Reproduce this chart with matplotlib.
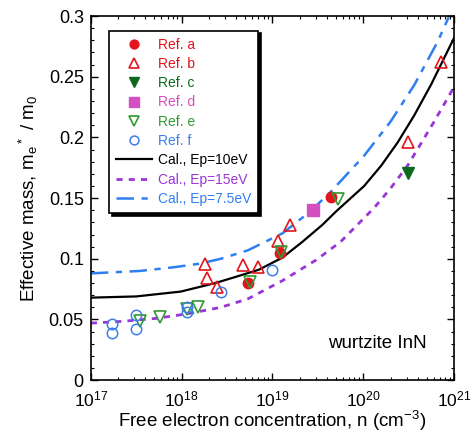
import numpy as np
import matplotlib
matplotlib.use("Agg")
import matplotlib.pyplot as plt
from matplotlib.ticker import MultipleLocator, LogLocator, FixedFormatter, FixedLocator

plt.rcParams['font.family'] = ['Liberation Sans', 'DejaVu Sans']
plt.rcParams['mathtext.default'] = 'regular'

# measured effective masses (n in cm^-3)
ref_a_n = [5.4e18, 1.2e19, 4.4e19]
ref_a_m = [0.080, 0.105, 0.151]

ref_b_n = [1.8e18, 1.9e18, 2.45e18, 4.8e18, 7.0e18, 1.15e19, 1.55e19, 3.1e20, 7.2e20]
ref_b_m = [0.096, 0.084, 0.077, 0.095, 0.093, 0.115, 0.128, 0.196, 0.262]

ref_c_n = [3.1e20]
ref_c_m = [0.171]

ref_d_n = [2.8e19]
ref_d_m = [0.140]

ref_e_n = [3.5e17, 5.8e17, 1.15e18, 1.5e18, 5.7e18, 1.23e19, 5.3e19]
ref_e_m = [0.049, 0.052, 0.059, 0.060, 0.081, 0.106, 0.149]

ref_f_n = [1.7e17, 1.7e17, 3.15e17, 3.15e17, 1.15e18, 1.15e18, 2.7e18, 9.8e18]
ref_f_m = [0.046, 0.039, 0.054, 0.042, 0.060, 0.056, 0.073, 0.091]

# calculated curves, log10(n) vs m*/m0
cal10_logn = [17.00, 17.50, 17.99, 18.37, 18.59, 18.85, 19.11, 19.33, 19.55, 19.70,
              20.01, 20.20, 20.38, 20.56, 20.75, 21.00]
cal10_m = [0.068, 0.069, 0.073, 0.080, 0.085, 0.091, 0.101, 0.114, 0.128, 0.139,
           0.160, 0.177, 0.196, 0.218, 0.244, 0.282]

cal15_logn = [17.00, 17.35, 17.73, 18.09, 18.43, 18.73, 19.11, 19.48, 19.75, 20.12,
              20.30, 20.49, 20.78, 20.98]
cal15_m = [0.047, 0.0485, 0.051, 0.055, 0.060, 0.067, 0.082, 0.099, 0.114, 0.142,
           0.158, 0.177, 0.213, 0.239]

cal75_logn = [17.00, 17.54, 17.91, 18.20, 18.43, 18.73, 19.11, 19.40, 19.64, 20.01,
              20.30, 20.56, 20.82, 20.94]
cal75_m = [0.088, 0.090, 0.093, 0.096, 0.100, 0.107, 0.121, 0.138, 0.155, 0.185,
           0.213, 0.243, 0.279, 0.299]

red = '#e3141b'
dkgreen = '#0b6a1d'
magenta = '#d44fbf'
green = '#2f9a2f'
blue = '#3d7fe6'
purple = '#9a35d8'
lblue = '#2f7ff2'

fig = plt.figure(figsize=(4.73, 4.34), dpi=100)
ax = fig.add_axes([0.192, 0.124, 0.768, 0.839])

ax.plot(10 ** np.array(cal10_logn), cal10_m, color='black', lw=1.6, label='Cal., Ep=10eV', zorder=2)
ax.plot(10 ** np.array(cal15_logn), cal15_m, color=purple, lw=2.0, dashes=(2.2, 2.2),
        label='Cal., Ep=15eV', zorder=2)
ax.plot(10 ** np.array(cal75_logn), cal75_m, color=lblue, lw=1.8, dashes=(7, 3, 2.5, 3),
        label='Cal., Ep=7.5eV', zorder=2)

ax.plot(ref_a_n, ref_a_m, 'o', color=red, ms=7.5, label='Ref. a', zorder=3)
ax.plot(ref_b_n, ref_b_m, '^', mfc='none', mec=red, mew=1.2, ms=9, label='Ref. b', zorder=4)
ax.plot(ref_c_n, ref_c_m, 'v', color=dkgreen, ms=9, label='Ref. c', zorder=4)
ax.plot(ref_d_n, ref_d_m, 's', color=magenta, ms=8, label='Ref. d', zorder=4)
ax.plot(ref_e_n, ref_e_m, 'v', mfc='none', mec=green, mew=1.2, ms=9, label='Ref. e', zorder=4)
ax.plot(ref_f_n, ref_f_m, 'o', mfc='none', mec=blue, mew=1.1, ms=7.5, label='Ref. f', zorder=4)

ax.set_xscale('log')
ax.set_xlim(1e17, 1e21)
ax.set_ylim(0, 0.3)
ax.xaxis.set_major_locator(LogLocator(base=10, numticks=10))
ax.xaxis.set_minor_locator(LogLocator(base=10, subs=np.arange(2, 10), numticks=50))
yt = [0, 0.05, 0.1, 0.15, 0.2, 0.25, 0.3]
ax.yaxis.set_major_locator(FixedLocator(yt))
ax.yaxis.set_major_formatter(FixedFormatter(['0', '0.05', '0.1', '0.15', '0.2', '0.25', '0.3']))
ax.yaxis.set_minor_locator(MultipleLocator(0.01))
ax.tick_params(which='both', direction='in', top=True, right=True, labelsize=13)
ax.tick_params(which='major', length=5, width=1.0)
ax.tick_params(which='minor', length=2.5, width=0.8)
ax.tick_params(axis='x', pad=6.5, labelsize=12.5)
ax.tick_params(axis='y', pad=5)
for sp in ax.spines.values():
    sp.set_linewidth(1.2)

ax.set_xlabel(r'Free electron concentration, n (cm$^{-3}$)', fontsize=13.5, labelpad=-0.5)
ax.set_ylabel(r'Effective mass, m$_e$$^*$ / m$_0$', fontsize=13.5, labelpad=6)

ax.text(0.79, 0.10, 'wurtzite InN', transform=ax.transAxes, fontsize=13.5,
        ha='center', va='center')

handles, labels = ax.get_legend_handles_labels()
order = [3, 4, 5, 6, 7, 8, 0, 1, 2]
leg = ax.legend([handles[i] for i in order], [labels[i] for i in order],
                loc='upper left', bbox_to_anchor=(0.05, 0.96), borderaxespad=0,
                fontsize=10, handlelength=2.6, handletextpad=0.4, labelspacing=0.38,
                borderpad=0.5, frameon=True, fancybox=False, framealpha=1,
                edgecolor='black', markerscale=0.85,
                shadow={'color': 'black', 'alpha': 1})
leg.get_frame().set_linewidth(1.2)
text_colors = [red, red, dkgreen, magenta, green, blue, 'black', purple, lblue]
for t, c in zip(leg.get_texts(), text_colors):
    t.set_color(c)

fig.savefig('out.png', dpi=100)
